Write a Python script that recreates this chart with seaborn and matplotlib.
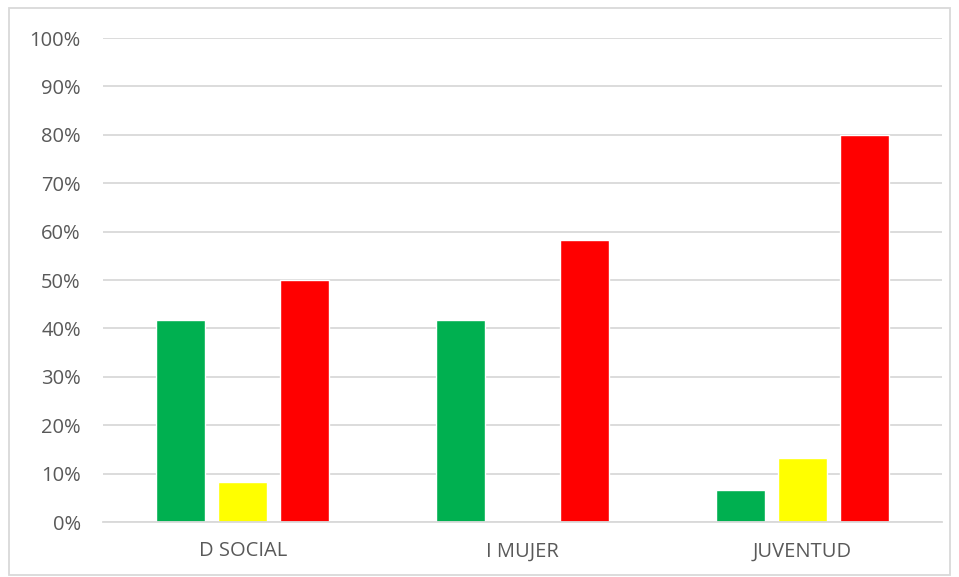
import matplotlib
matplotlib.use("Agg")
import matplotlib.pyplot as plt
import matplotlib.patches as mpatches
import seaborn as sns
import pandas as pd
from matplotlib.ticker import PercentFormatter, MultipleLocator

# data
categories = ["D SOCIAL", "I MUJER", "JUVENTUD"]
series = ["verde", "amarillo", "rojo"]
verde = [41.7, 41.7, 6.7]
amarillo = [8.3, 0.0, 13.3]
rojo = [50.0, 58.3, 80.0]
colors = ["#00B050", "#FFFF00", "#FF0000"]

rows = []
for i, cat in enumerate(categories):
    for name, vals in zip(series, [verde, amarillo, rojo]):
        rows.append({"cat": cat, "serie": name, "valor": vals[i]})
df = pd.DataFrame(rows)

sns.set_theme(style="white")
plt.rcParams["font.family"] = ["Open Sans", "DejaVu Sans"]

fig = plt.figure(figsize=(9.59, 5.77), dpi=100)
ax = fig.add_axes([103 / 959, 1 - 522 / 577, (942 - 103) / 959, (522 - 38) / 577])

sns.barplot(data=df, x="cat", y="valor", hue="serie", palette=colors,
            width=0.664, gap=0.21, ax=ax, legend=False, saturation=1,
            errorbar=None)

ax.set_ylim(0, 100)
ax.set_xlim(-0.5, 2.5)
ax.yaxis.set_major_locator(MultipleLocator(10))
ax.yaxis.set_major_formatter(PercentFormatter(decimals=0))
ax.grid(axis="y", color="#D9D9D9", linewidth=1.3)
ax.set_axisbelow(True)
for s in ["left", "right", "top"]:
    ax.spines[s].set_visible(False)
ax.spines["bottom"].set_color("#D9D9D9")
ax.spines["bottom"].set_linewidth(1.3)
ax.set_xlabel("")
ax.set_ylabel("")
ax.tick_params(axis="both", length=0, labelcolor="#595959")
ax.tick_params(axis="y", labelsize=14.5, pad=16)
ax.tick_params(axis="x", labelsize=14.5, pad=14)

# outer chart border
fig.patches.append(mpatches.Rectangle((9 / 959, 2 / 577), 941 / 959, 567 / 577,
                                      transform=fig.transFigure, fill=False,
                                      edgecolor="#D9D9D9", linewidth=1.3))

fig.savefig("out.png", dpi=100)
